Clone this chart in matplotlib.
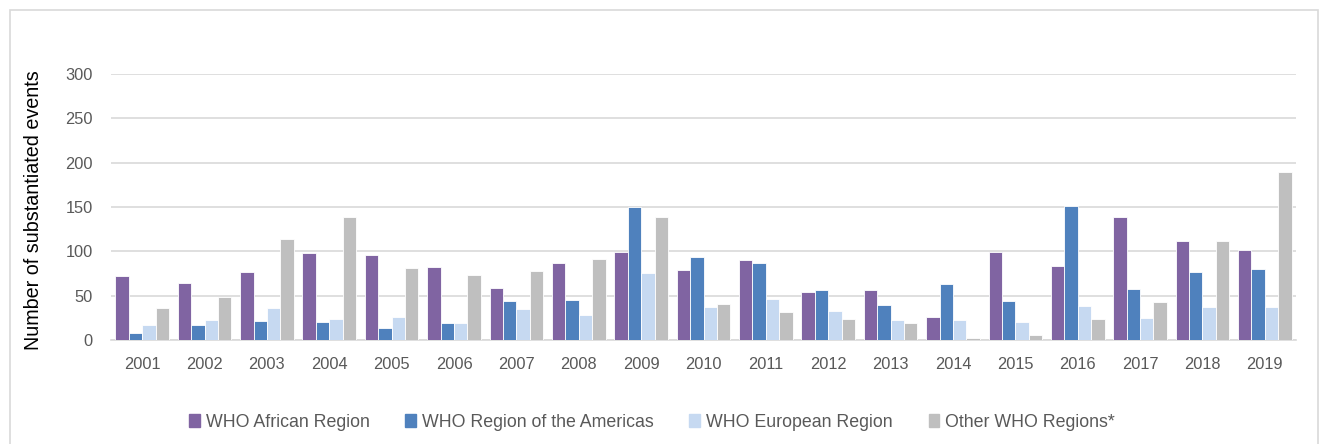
import matplotlib.pyplot as plt
import matplotlib.patches as mpatches
import numpy as np

# --- data ---
years = [str(y) for y in range(2001, 2020)]
african = [72, 64, 77, 98, 96, 82, 59, 87, 99, 79, 90, 54, 56, 26, 99, 84, 139, 112, 102]
americas = [8, 17, 21, 20, 14, 19, 44, 45, 150, 94, 87, 56, 40, 63, 44, 151, 57, 77, 80]
european = [17, 23, 36, 24, 26, 19, 35, 28, 76, 37, 46, 33, 23, 23, 20, 38, 25, 37, 37]
other = [36, 48, 114, 139, 81, 73, 78, 91, 139, 41, 32, 24, 19, 2, 6, 24, 43, 112, 190]

series = [african, americas, european, other]
labels = ["WHO African Region", "WHO Region of the Americas",
          "WHO European Region", "Other WHO Regions*"]
colors = ["#8064a2", "#4f81bd", "#c6d9f1", "#bfbfbf"]

plt.rcParams['font.family'] = ['Liberation Sans', 'DejaVu Sans']

fig = plt.figure(figsize=(13.2, 4.44), dpi=100)
ax = fig.add_axes([111 / 1320, 1 - 340 / 444, 1185 / 1320, 266 / 444])

x = np.arange(len(years))
w = 0.215
for i, (vals, lab, col) in enumerate(zip(series, labels, colors)):
    ax.bar(x + (i - 1.5) * w, vals, width=w, color=col, edgecolor='white',
           linewidth=0.6, label=lab, zorder=3)

ax.set_xlim(-0.5, len(years) - 0.5)
ax.set_ylim(0, 300)
ax.set_yticks(range(0, 301, 50))
ax.set_xticks(x)
ax.set_xticklabels(years)
ax.grid(axis='y', color='#d9d9d9', linewidth=1.2, zorder=0)
for s in ['top', 'right', 'left']:
    ax.spines[s].set_visible(False)
ax.spines['bottom'].set_color('#d9d9d9')
ax.spines['bottom'].set_linewidth(1.2)
ax.tick_params(axis='both', length=0, labelsize=11.8, labelcolor='#595959')
ax.tick_params(axis='y', pad=13)
ax.tick_params(axis='x', pad=12)

ax.set_ylabel("Number of substantiated events", fontsize=14.2, color='black')
ax.yaxis.set_label_coords(-68 / 1185, 0.49)

# legend
handles = [mpatches.Patch(color=c, label=l) for c, l in zip(colors, labels)]
fig.legend(handles=handles, loc='center', bbox_to_anchor=(0.494, 1 - 422 / 444),
           ncol=4, frameon=False, fontsize=12.8, handlelength=0.6, handleheight=0.8,
           handletextpad=0.35, columnspacing=2.0, labelcolor='#595959')

# chart frame
fig.patches.append(mpatches.Rectangle((10 / 1320, -0.01), 1308 / 1320, 1 - 10 / 444 + 0.01,
                                      transform=fig.transFigure, fill=False,
                                      edgecolor='#d9d9d9', linewidth=1.2))

fig.savefig("out.png", dpi=100)
